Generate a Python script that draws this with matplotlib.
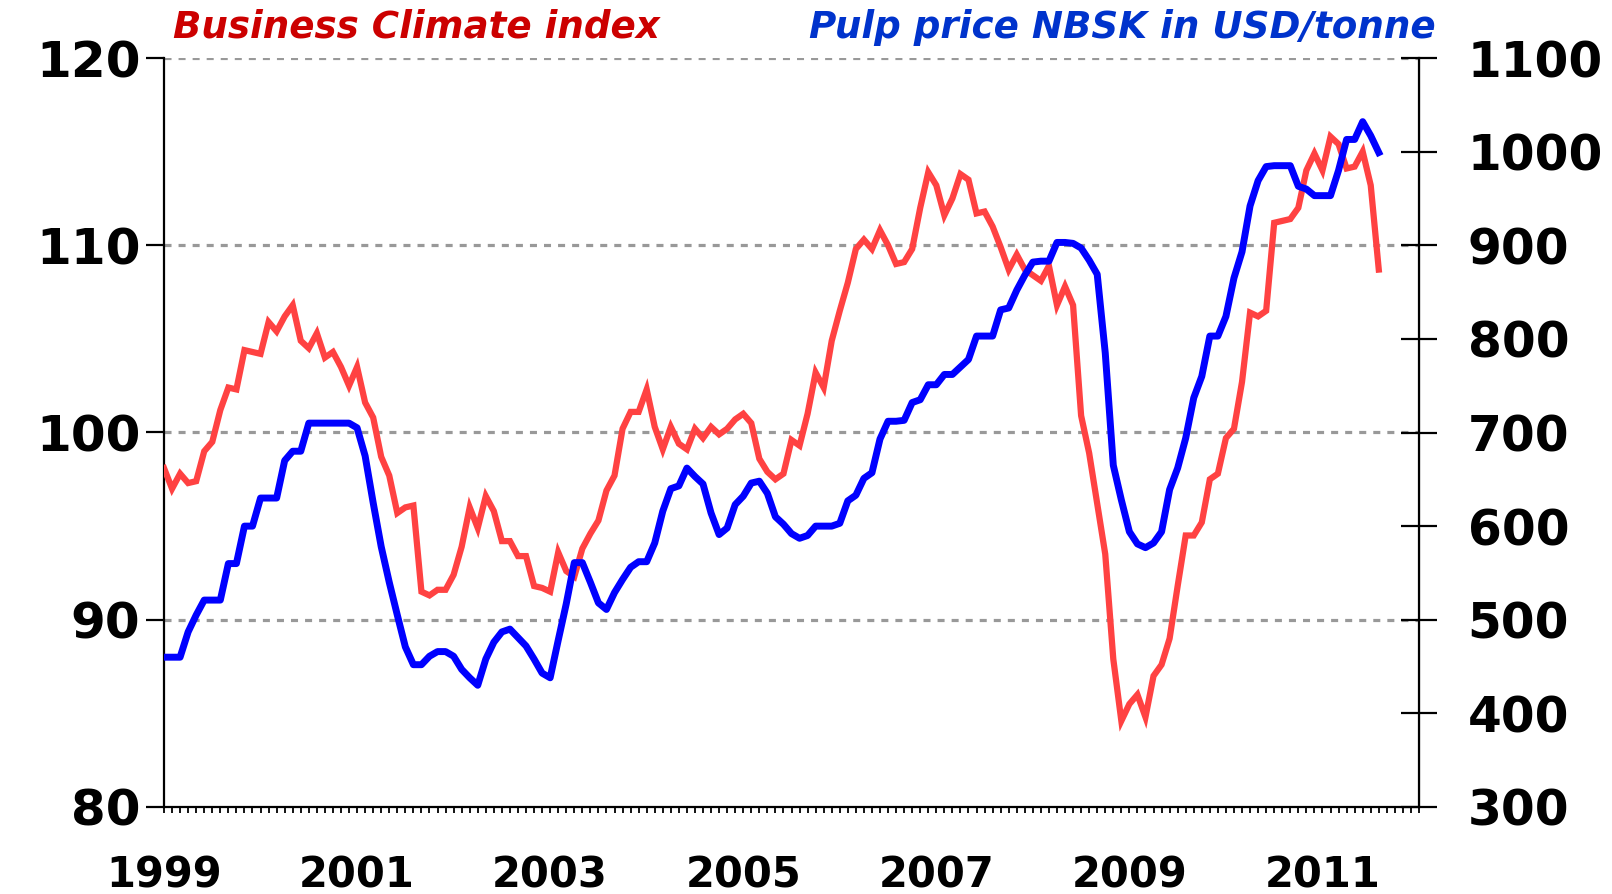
import matplotlib
matplotlib.use("Agg")
import matplotlib.pyplot as plt
from matplotlib.ticker import MultipleLocator, FixedLocator
import numpy as np

# monthly data, Jan 1999 .. Aug 2011
start_year = 1999
business_climate = [
    98.1, 97.0, 97.8, 97.3, 97.4, 99.0, 99.5, 101.2, 102.4, 102.3, 104.4, 104.3,
    104.2, 105.9, 105.4, 106.2, 106.8, 104.9, 104.5, 105.3, 104.0, 104.3, 103.5, 102.5,
    103.5, 101.6, 100.8, 98.7, 97.7, 95.7, 96.0, 96.1, 91.5, 91.3, 91.6, 91.6,
    92.4, 93.9, 96.0, 94.9, 96.6, 95.8, 94.2, 94.2, 93.4, 93.4, 91.8, 91.7,
    91.5, 93.6, 92.6, 92.3, 93.8, 94.6, 95.3, 96.9, 97.7, 100.2, 101.1, 101.1,
    102.3, 100.3, 99.1, 100.3, 99.4, 99.1, 100.2, 99.7, 100.3, 99.9, 100.2, 100.7,
    101.0, 100.5, 98.6, 97.9, 97.5, 97.8, 99.6, 99.3, 101.0, 103.2, 102.4, 104.9,
    106.5, 108.0, 109.8, 110.3, 109.8, 110.8, 110.0, 109.0, 109.1, 109.8, 112.0, 113.9,
    113.2, 111.6, 112.5, 113.8, 113.5, 111.7, 111.8, 111.0, 109.9, 108.7, 109.5, 108.7,
    108.4, 108.1, 108.9, 106.8, 107.8, 106.8, 100.9, 98.9, 96.2, 93.5, 87.9, 84.6,
    85.5, 86.0, 84.8, 87.0, 87.6, 89.0, 91.8, 94.5, 94.5, 95.2, 97.5, 97.8,
    99.7, 100.2, 102.7, 106.4, 106.2, 106.5, 111.2, 111.3, 111.4, 112.0, 114.0, 114.9,
    114.0, 115.8, 115.4, 114.1, 114.2, 115.0, 113.2, 108.7,
]
pulp_price = [
    460, 460, 460, 487, 505, 521, 521, 521, 560, 560, 600, 600,
    630, 630, 630, 670, 680, 680, 710, 710, 710, 710, 710, 710,
    705, 675, 625, 578, 540, 505, 471, 452, 452, 461, 466, 466,
    461, 447, 438, 430, 458, 476, 487, 490, 481, 472, 458, 443,
    438, 478, 517, 561, 561, 540, 518, 511, 529, 543, 556, 562,
    562, 582, 616, 640, 643, 662, 653, 645, 614, 591, 598, 623,
    632, 646, 648, 635, 610, 602, 592, 587, 590, 600, 600, 600,
    603, 627, 633, 651, 657, 693, 712, 712, 713, 732, 735, 751,
    751, 762, 762, 770, 778, 803, 803, 803, 831, 833, 852, 868,
    882, 883, 883, 903, 903, 902, 897, 884, 869, 785, 665, 628,
    594, 581, 577, 582, 594, 639, 662, 694, 737, 760, 803, 803,
    824, 865, 893, 942, 969, 984, 985, 985, 985, 963, 960, 953,
    953, 953, 980, 1013, 1013, 1032, 1017, 999,
]
year_labels = [1999, 2001, 2003, 2005, 2007, 2009, 2011]
left_ticks = [80, 90, 100, 110, 120]
right_ticks = [300, 400, 500, 600, 700, 800, 900, 1000, 1100]

t = start_year + np.arange(len(business_climate)) / 12.0

plt.rcParams['font.family'] = ['DejaVu Sans']
plt.rcParams['font.weight'] = 'bold'

fig = plt.figure(figsize=(16.12, 8.94), dpi=100)
ax = fig.add_axes([164/1612, 1-807/894, (1419-164)/1612, (807-58)/894])
ax2 = ax.twinx()

ax.plot(t, business_climate, color='#FF4242', lw=4.5, solid_joinstyle='miter', zorder=3)
ax2.plot(t, pulp_price, color='#0000FF', lw=5.0, solid_joinstyle='round', zorder=4)

ax.set_xlim(1999, 2012)
ax.set_ylim(80, 120)
ax2.set_ylim(300, 1100)

for v in left_ticks[1:]:
    ax.axhline(v, color='#999999', lw=2.3, ls=(0, (2.2, 2.2)), zorder=1)

ax.spines['top'].set_visible(False)
ax2.spines['top'].set_visible(False)
for s in ['left', 'bottom']:
    ax.spines[s].set_linewidth(1.6)
ax2.spines['right'].set_linewidth(1.6)
ax2.spines['left'].set_visible(False)
ax2.spines['bottom'].set_visible(False)

ax.set_yticks(left_ticks)
ax.set_yticklabels([str(v) for v in left_ticks], fontsize=36, fontweight='bold')
ax.tick_params(axis='y', direction='out', length=13, width=1.6, pad=4)

ax2.set_yticks(right_ticks)
ax2.set_yticklabels([str(v) for v in right_ticks], fontsize=35, fontweight='bold')
ax2.tick_params(axis='y', direction='inout', length=26, width=1.6, pad=22)

ax.xaxis.set_major_locator(FixedLocator(year_labels))
ax.set_xticklabels([str(y) for y in year_labels], fontsize=30, fontweight='bold')
ax.xaxis.set_minor_locator(MultipleLocator(1/12))
ax.tick_params(axis='x', which='both', direction='out', length=4.5, width=1.3, pad=30)

fig.text(173/1612, 1-27/894, 'Business Climate index', color='#CC0000',
         fontsize=26.8, fontweight='bold', fontstyle='italic', ha='left', va='center')
fig.text(1436/1612, 1-27/894, 'Pulp price NBSK in USD/tonne', color='#0033CC',
         fontsize=26.8, fontweight='bold', fontstyle='italic', ha='right', va='center')

fig.savefig('out.png', dpi=100)
